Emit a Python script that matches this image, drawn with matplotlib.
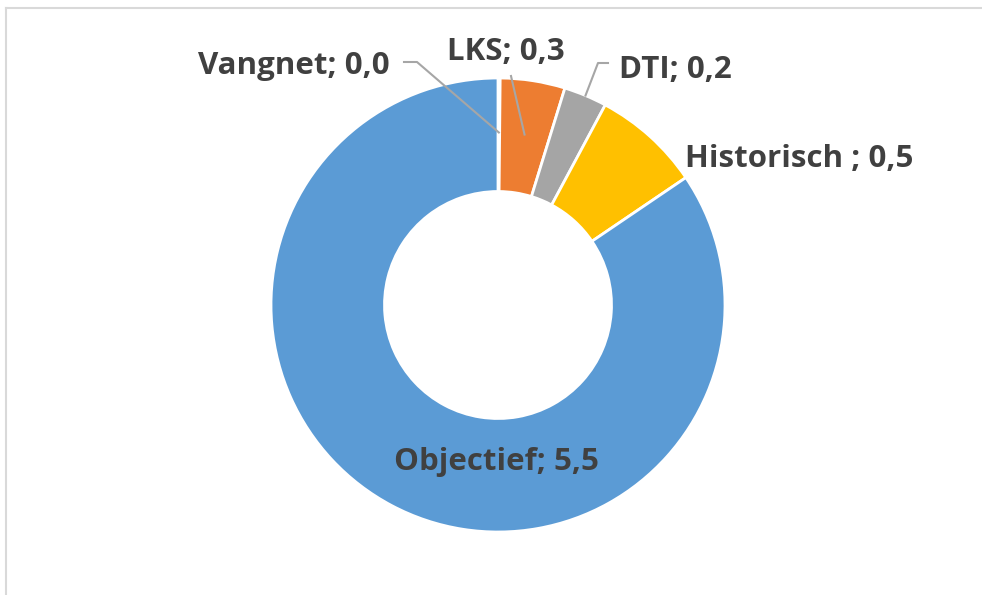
import numpy as np
import matplotlib
matplotlib.use("Agg")
import matplotlib.pyplot as plt

# data
categories = ["Vangnet", "LKS", "DTI", "Historisch ", "Objectief"]
values = [0.01, 0.3, 0.2, 0.5, 5.5]
colors = ["#5B9BD5", "#ED7D31", "#A5A5A5", "#FFC000", "#5B9BD5"]

W, H = 982, 595
fig = plt.figure(figsize=(W / 100, H / 100), dpi=100)
ax = fig.add_axes([0, 0, 1, 1])

cx, cy, R = 498, H - 305, 227
wedges, _ = ax.pie(values, colors=colors, startangle=90, counterclock=False,
                   center=(cx, cy), radius=R, frame=True,
                   wedgeprops=dict(width=R * 0.5, edgecolor="white", linewidth=2))
ax.set_xlim(0, W)
ax.set_ylim(0, H)
ax.set_aspect("equal")
ax.axis("off")

def fmt(name, v):
    return f"{name}; {v:.1f}".replace(".", ",")

txt_kw = dict(fontsize=22.5, fontweight="bold", color="#404040", family=["Open Sans", "DejaVu Sans"])
line_kw = dict(color="#A6A6A6", lw=1.5, zorder=5)

# label layout: (x, baseline y in px, ha, leader start pts, leader radius frac)
layout = {
    "Vangnet": (390, 74, "right", [(404, 62), (417, 62)], 0.76),
    "LKS": (447, 60, "left", [(511, 76)], 0.76),
    "DTI": (619, 78, "left", [(608, 63), (598, 63)], 1.0),
    "Historisch ": (685, 167, "left", None, None),
    "Objectief": (496, 470, "center", None, None),
}

for w, name, v in zip(wedges, categories, values):
    x, by, ha, pts, rf = layout[name]
    ax.text(x, H - by, fmt(name, v), ha=ha, va="baseline", zorder=6, **txt_kw)
    if pts:
        mid = np.deg2rad((w.theta1 + w.theta2) / 2)
        ex = cx + R * rf * np.cos(mid)
        ey = cy + R * rf * np.sin(mid)
        xs = [p[0] for p in pts] + [ex]
        ys = [H - p[1] for p in pts] + [ey]
        ax.plot(xs, ys, **line_kw)

# chart area border (top and left visible)
ax.plot([6, W], [H - 8, H - 8], color="#D9D9D9", lw=1.5)
ax.plot([6, 6], [H - 8, 0], color="#D9D9D9", lw=1.5)

fig.savefig("out.png", dpi=100)
